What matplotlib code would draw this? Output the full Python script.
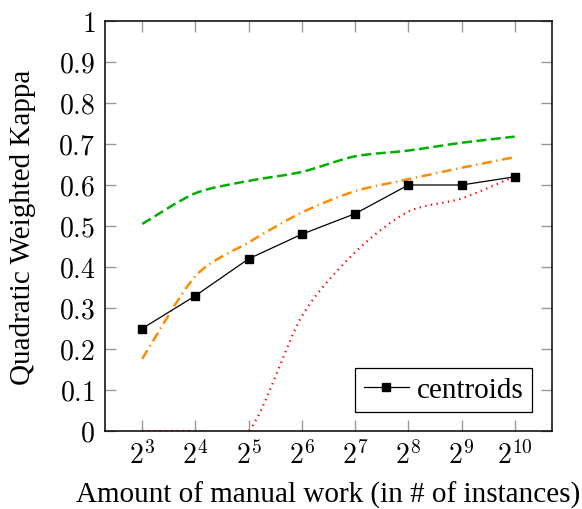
import numpy as np
import matplotlib
matplotlib.use("Agg")
import matplotlib.pyplot as plt
from matplotlib.path import Path
from matplotlib.patches import PathPatch

plt.rcParams['font.family'] = ['Liberation Serif', 'DejaVu Serif']
plt.rcParams['mathtext.fontset'] = 'cm'

# log2 of the amount of manual work
exponents = [3, 4, 5, 6, 7, 8, 9, 10]

centroids = [0.25, 0.33, 0.42, 0.48, 0.53, 0.60, 0.60, 0.62]
green_series = [0.505, 0.580, 0.610, 0.632, 0.670, 0.684, 0.703, 0.718]
orange_series = [0.176, 0.378, 0.460, 0.533, 0.585, 0.614, 0.642, 0.668]
red_series = [0.0, 0.0, 0.0, 0.280, 0.436, 0.535, 0.567, 0.621]

yticks = [0, 0.1, 0.2, 0.3, 0.4, 0.5, 0.6, 0.7, 0.8, 0.9, 1]
ytick_labels = ["0", "0.1", "0.2", "0.3", "0.4", "0.5", "0.6", "0.7", "0.8", "0.9", "1"]


def smooth_path(xs, ys, k=1 / 6):
    # catmull-rom style curve through the points (like pgfplots "smooth")
    pts = np.column_stack([xs, ys]).astype(float)
    n = len(pts)
    verts = [pts[0]]
    codes = [Path.MOVETO]
    for i in range(n - 1):
        p0 = pts[max(i - 1, 0)]
        p1 = pts[i]
        p2 = pts[i + 1]
        p3 = pts[min(i + 2, n - 1)]
        c1 = p1 + (p2 - p0) * k
        c2 = p2 - (p3 - p1) * k
        verts += [c1, c2, p2]
        codes += [Path.CURVE4] * 3
    return Path(verts, codes)


fig = plt.figure(figsize=(5.82, 5.10), dpi=100)
ax = fig.add_axes([105 / 582, 1 - 432 / 510, 447 / 582, 410 / 510])

for ys, color, ls, lw in [
    (green_series, '#00b000', (0, (4, 1.8)), 1.8),
    (orange_series, '#ff8c00', (0, (4, 1.8, 0.6, 1.8)), 1.8),
    (red_series, '#ff0000', (0, (0.6, 2.0)), 1.6),
]:
    patch = PathPatch(smooth_path(exponents, ys, k=0.14), facecolor='none',
                      edgecolor=color, linestyle=ls, linewidth=lw, clip_on=True)
    ax.add_patch(patch)

ax.plot(exponents, centroids, color='black', linewidth=0.9, marker='s',
        markersize=5.5, label='centroids', zorder=5)

ax.set_xlim(2.3, 10.7)
ax.set_ylim(0, 1)
ax.set_xticks(exponents)
ax.set_xticklabels([f"$2^{{{e}}}$" for e in exponents], fontsize=20)
ax.set_yticks(yticks)
ax.set_yticklabels([f"${t}$" for t in ytick_labels], fontsize=20)
ax.tick_params(direction='in', length=8, width=1, color='#999999',
               top=True, right=True, pad=7)
for s in ax.spines.values():
    s.set_linewidth(1.1)

ax.set_xlabel("Amount of manual work (in # of instances)", fontsize=21, labelpad=8)
ax.set_ylabel("Quadratic Weighted Kappa", fontsize=21, labelpad=16)

leg = ax.legend(loc='lower right', fontsize=21, fancybox=False, framealpha=1,
                edgecolor='black', handlelength=1.55, handletextpad=0.25,
                borderpad=0.3, borderaxespad=0, bbox_to_anchor=(0.955, 0.046))
leg.get_frame().set_linewidth(0.9)

fig.savefig("out.png", dpi=100)
